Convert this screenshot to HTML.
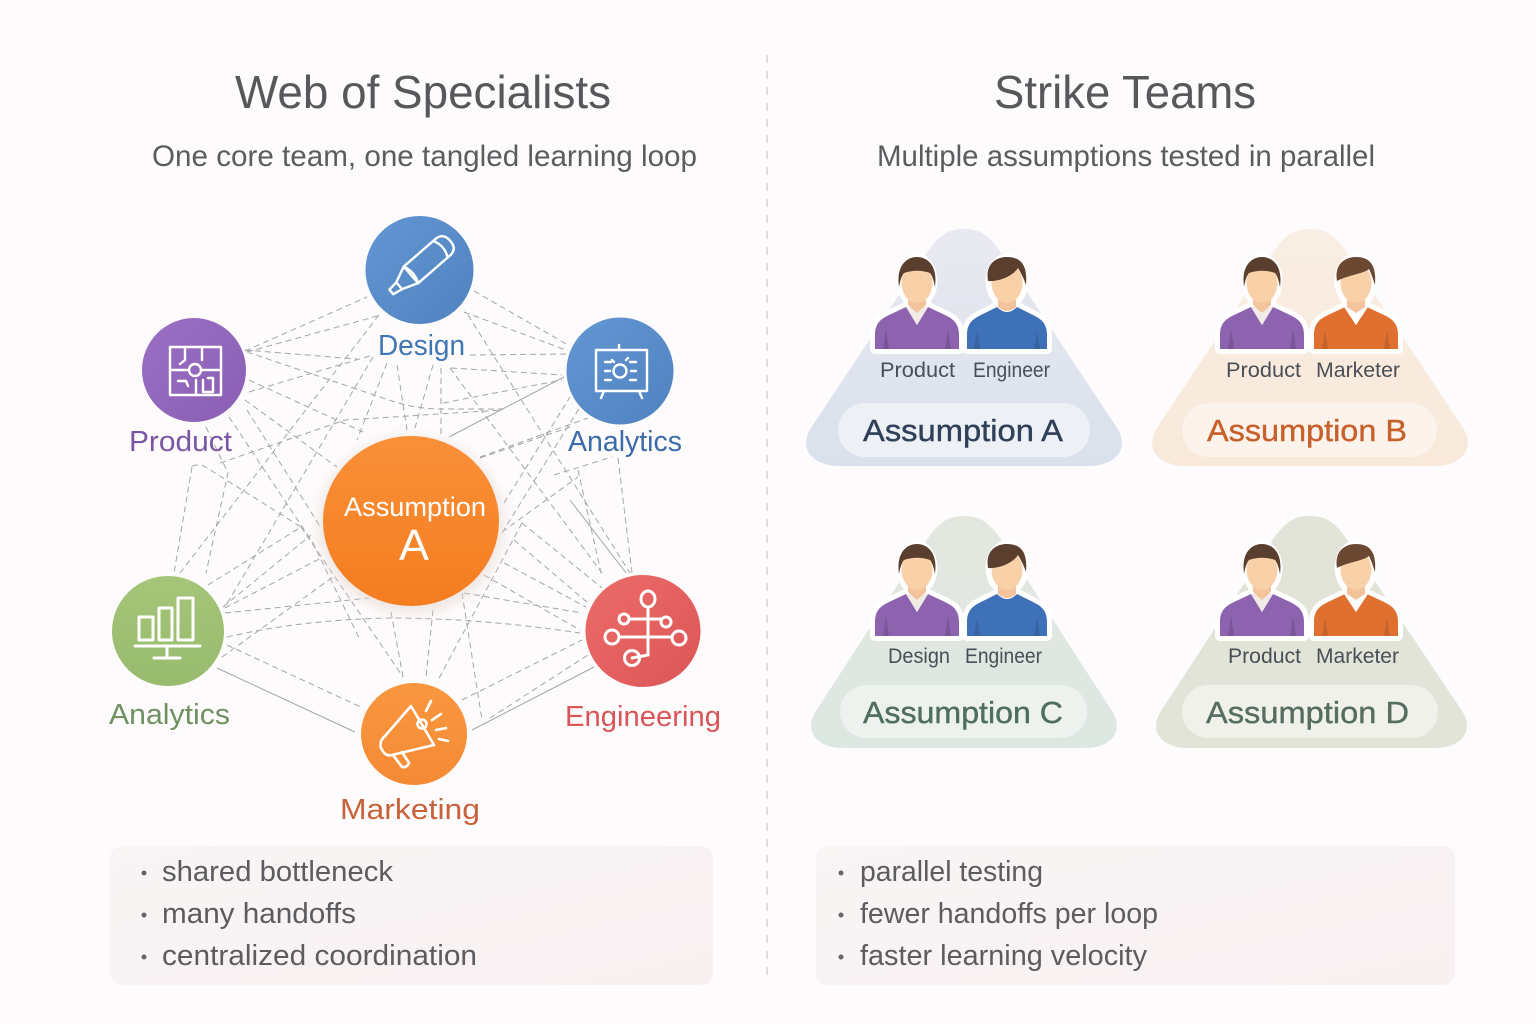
<!DOCTYPE html>
<html lang="en"><head><meta charset="utf-8"><title>Web of Specialists vs Strike Teams</title>
<style>
html,body{margin:0;padding:0;background:#fdfbfb}
svg{display:block}
text{font-family:"Liberation Sans",sans-serif}
</style></head><body>
<svg xmlns="http://www.w3.org/2000/svg" width="1536" height="1024" viewBox="0 0 1536 1024">
<defs>
<linearGradient id="gB" x1="0" y1="0" x2="1" y2="1"><stop offset="0" stop-color="#6397d3"/><stop offset="1" stop-color="#4f82bf"/></linearGradient>
<linearGradient id="gP" x1="0" y1="0" x2="1" y2="1"><stop offset="0" stop-color="#9a70c4"/><stop offset="1" stop-color="#8a5fb3"/></linearGradient>
<linearGradient id="gO" x1="0" y1="0" x2="0" y2="1"><stop offset="0" stop-color="#f99038"/><stop offset="1" stop-color="#f47d20"/></linearGradient>
<linearGradient id="gM" x1="0" y1="0" x2="0" y2="1"><stop offset="0" stop-color="#f9973f"/><stop offset="1" stop-color="#f58a35"/></linearGradient>
<linearGradient id="gG" x1="0" y1="0" x2="0" y2="1"><stop offset="0" stop-color="#a5c578"/><stop offset="1" stop-color="#98bb6e"/></linearGradient>
<linearGradient id="gR" x1="0" y1="0" x2="1" y2="1"><stop offset="0" stop-color="#ec6d6a"/><stop offset="1" stop-color="#dc5557"/></linearGradient>
<linearGradient id="tA" x1="0" y1="0" x2="0" y2="1"><stop offset="0" stop-color="#e9e9f0"/><stop offset="1" stop-color="#d9e1ec"/></linearGradient>
<linearGradient id="tB" x1="0" y1="0" x2="0" y2="1"><stop offset="0" stop-color="#f9eee4"/><stop offset="1" stop-color="#f8e9da"/></linearGradient>
<linearGradient id="tC" x1="0" y1="0" x2="0" y2="1"><stop offset="0" stop-color="#e3e7e0"/><stop offset="1" stop-color="#dde7e2"/></linearGradient>
<linearGradient id="tD" x1="0" y1="0" x2="0" y2="1"><stop offset="0" stop-color="#e2e4d9"/><stop offset="1" stop-color="#e1e4d7"/></linearGradient>
<linearGradient id="pan" x1="0" y1="0" x2="1" y2="1"><stop offset="0" stop-color="#f8f5f5"/><stop offset="1" stop-color="#f9f0f2"/></linearGradient>
<filter id="soft" x="-20%" y="-20%" width="140%" height="140%"><feGaussianBlur stdDeviation="6"/></filter>

<g id="p1">
  <path d="M-42,0 V-14 C-42,-26 -36,-30 -28,-34 L-11,-42 H11 L28,-34 C36,-30 42,-26 42,-14 V0 Z" fill="#fff" stroke="#fff" stroke-width="10" stroke-linejoin="round"/>
  <ellipse cx="0" cy="-68" rx="20.500" ry="27.500" fill="#fff"/>
  <path d="M-42,0 V-14 C-42,-26 -36,-30 -28,-34 L-11,-42 L0,-24 L11,-42 L28,-34 C36,-30 42,-26 42,-14 V0 Z" fill="currentColor"/>
  <path d="M-11,-42 L0,-24 L11,-42 Z" fill="#f0ebe5"/>
  <path d="M-34,0 L-31,-20 L-28,0 Z M34,0 L31,-20 L28,0 Z" fill="#000" opacity=".14"/>
  <path d="M-9,-58 H9 V-44 L0,-36 L-9,-44 Z" fill="#f3c49b"/>
  <ellipse cx="0" cy="-66" rx="15.500" ry="20" fill="#f9d1a9"/>
  <path d="M-18,-62 C-21,-84 -10,-92 0,-92 C10,-92 21,-84 18,-62 C17,-68 15,-74 13,-76 C5,-79 -5,-79 -13,-76 C-15,-74 -17,-68 -18,-62 Z" fill="#5a3f2e"/>
</g>
<g id="p2">
  <path d="M-40,0 V-14 C-40,-26 -34,-30 -26,-34 L-10,-42 H10 L26,-34 C34,-30 40,-26 40,-14 V0 Z" fill="#fff" stroke="#fff" stroke-width="10" stroke-linejoin="round"/>
  <ellipse cx="0" cy="-68" rx="21.500" ry="27.500" fill="#fff"/>
  <path d="M-40,0 V-14 C-40,-26 -34,-30 -26,-34 L-10,-42 Q0,-32 10,-42 L26,-34 C34,-30 40,-26 40,-14 V0 Z" fill="currentColor"/>
  <path d="M-33,0 L-30,-18 L-27,0 Z M33,0 L30,-18 L27,0 Z" fill="#000" opacity=".12"/>
  <path d="M-9,-58 H9 V-42 Q0,-34 -9,-42 Z" fill="#f3c49b"/>
  <ellipse cx="0" cy="-66" rx="15.500" ry="20" fill="#f9d1a9"/>
  <path d="M-19,-68 C-22,-86 -10,-92 0,-92 C12,-92 21,-86 19,-64 C17,-70 14,-76 11,-81 C6,-73 -8,-67 -19,-68 Z" fill="#5a3f2e"/>
</g>
<g id="p3">
  <path d="M-42,0 V-14 C-42,-26 -36,-30 -28,-34 L-11,-42 H11 L28,-34 C36,-30 42,-26 42,-14 V0 Z" fill="#fff" stroke="#fff" stroke-width="10" stroke-linejoin="round"/>
  <ellipse cx="0" cy="-68" rx="21.500" ry="27.500" fill="#fff"/>
  <path d="M-42,0 V-14 C-42,-26 -36,-30 -28,-34 L-11,-42 L0,-24 L11,-42 L28,-34 C36,-30 42,-26 42,-14 V0 Z" fill="currentColor"/>
  <path d="M-12,-42 L0,-24 L12,-42 Z" fill="#fff"/>
  <path d="M-34,0 L-31,-18 L-28,0 Z M34,0 L31,-18 L28,0 Z" fill="#000" opacity=".12"/>
  <path d="M-9,-58 H9 V-42 L0,-36 L-9,-42 Z" fill="#f3c49b"/>
  <ellipse cx="0" cy="-66" rx="15.500" ry="20" fill="#f9d1a9"/>
  <path d="M-19,-68 C-22,-86 -10,-92 0,-92 C12,-92 21,-86 19,-64 C17,-70 15,-76 13,-80 C7,-75 -8,-74 -19,-68 Z" fill="#6a4832"/>
</g>
</defs>

<rect width="1536" height="1024" fill="#fdfbfb"/>

<line x1="767" y1="55" x2="767" y2="978" stroke="#c9c8cb" stroke-width="1.2" stroke-dasharray="8 8"/>

<!-- headings -->
<text x="235" y="108" font-size="46" fill="#58585c" textLength="376" lengthAdjust="spacingAndGlyphs">Web of Specialists</text>
<text x="152" y="166" font-size="30" fill="#5c5c60" textLength="545" lengthAdjust="spacingAndGlyphs">One core team, one tangled learning loop</text>
<text x="994" y="108" font-size="46" fill="#58585c" textLength="262" lengthAdjust="spacingAndGlyphs">Strike Teams</text>
<text x="877" y="166" font-size="30" fill="#5c5c60" textLength="498" lengthAdjust="spacingAndGlyphs">Multiple assumptions tested in parallel</text>

<!-- connectors -->
<g fill="none" stroke="#a4a4aa" stroke-width="1" stroke-dasharray="6 4">
<path d="M245,351L367,297M247,352L381,315M245,350L357,359M249,392L373,355M247,352L389,400Q415,409 441,409L504,409M443,403L562,380M220,463L345,420L502,410M470,355L566,354M451,368L562,375M474,291L568,345M464,312L566,350M468,315L630,573M450,368L602,573M480,457L588,418M480,458L570,427M504,503L570,397M502,532L578,477M502,533L580,407M554,475L612,457M618,458L632,573M578,470L602,577"/>
<path d="M192,467L174,573M192,466Q198,464 204,466L301,527M206,427L228,473L206,573M229,417L313,543L360,640M245,400L337,467M249,380L363,432M379,315L180,573M373,357L225,607M387,363L357,440M397,365L407,430M433,365L415,428M441,368L441,437M247,410L321,528M208,585L301,527M223,607L311,535M225,608L321,558M225,613L369,598"/>
<path d="M227,637Q300,620 389,618Q480,618 580,633M222,657L333,577M227,645L363,708M301,527L403,677M391,612L403,677M433,610L426,677M522,523L437,682M462,593L482,720M464,593L582,613M484,575L580,630M504,563L586,607M514,540L588,603M522,523L602,588M462,700L582,640M490,718L588,655"/>
</g>
<g fill="none" stroke="#a4a4aa" stroke-width="1">
<path d="M217,668L355,732M472,730L594,667M570,500L626,573M449,437L564,377"/>
</g>

<!-- center -->
<ellipse cx="411" cy="525" rx="92" ry="88" fill="#e8dcd6" opacity=".7" filter="url(#soft)"/>
<ellipse cx="411" cy="521" rx="88" ry="85" fill="url(#gO)"/>
<text x="344" y="516" font-size="27" fill="#fff" textLength="142" lengthAdjust="spacingAndGlyphs">Assumption</text>
<text x="399" y="560" font-size="44" fill="#fff" textLength="30" lengthAdjust="spacingAndGlyphs">A</text>

<!-- nodes -->
<circle cx="419.500" cy="270" r="54" fill="url(#gB)"/>
<circle cx="194" cy="370" r="52" fill="url(#gP)"/>
<circle cx="620" cy="371" r="53.500" fill="url(#gB)"/>
<ellipse cx="168" cy="631" rx="56" ry="55" fill="url(#gG)"/>
<ellipse cx="643" cy="631" rx="57.500" ry="56" fill="url(#gR)"/>
<ellipse cx="414" cy="734" rx="53" ry="51" fill="url(#gM)"/>

<!-- icons -->
<g fill="none" stroke="#fff" stroke-width="2.400" stroke-linejoin="round" stroke-linecap="round">
  <g transform="translate(420,267) rotate(-41)">
    <path d="M-12,-11 H30 Q40,-11 40,0 Q40,11 30,11 H-12 Z"/>
    <path d="M27,-11 Q33,0 27,11"/>
    <path d="M-12,-11 L-28,-4 L-38,-3 V3 L-28,5 L-12,11 Q-7,0 -12,-11 Z"/>
    <path d="M-28,-4 V5"/>
  </g>
  <path d="M170,347H221V395H170Z"/>
  <circle cx="195" cy="370" r="6"/>
  <path d="M170,370H187M203,370H221M185,347V360L180,364M202,347V360M178,381H186L188,386M196,380V395M203,380V392H213V378H208"/>
  <path d="M596,350H647V391H596Z"/>
  <path d="M619,345V350M604,391L601,398M639,391L642,398"/>
  <circle cx="620" cy="371" r="6.500"/>
  <path d="M605,362H611M605,371H610M605,380H611M630,362H636M631,371H636M630,380H636M612,360L614,362M628,358L626,360"/>
  <path d="M139,617H153V640H139ZM159,608H172V640H159ZM178,598H193V640H178Z" stroke-width="3"/>
  <path d="M135,646H200M167,646V658M154,658H180" stroke-width="3"/>
  <path d="M648,607V655L632,658M629,619H661M619,637H672" stroke-width="3"/>
  <ellipse cx="648" cy="599" rx="7" ry="8" stroke-width="3"/>
  <circle cx="624" cy="619" r="5" stroke-width="3"/>
  <circle cx="666" cy="622" r="5" stroke-width="3"/>
  <circle cx="612" cy="637" r="7" stroke-width="3"/>
  <circle cx="679" cy="638" r="7" stroke-width="3"/>
  <circle cx="632" cy="658" r="7.500" stroke-width="3"/>
  <path d="M411,706L434,745L392,755Q385,757 381,748Q379,741 385,736Z" stroke-width="2.600"/>
  <path d="M393,755L402,767Q407,768 409,763L402,752" stroke-width="2.600"/>
  <circle cx="422" cy="724" r="4.500" stroke-width="2.600"/>
  <path d="M431,701L426,711M441,714L432,720M446,728L436,730M448,741L439,739" stroke-width="2.600"/>
</g>

<!-- node labels -->
<text x="378" y="355" font-size="29" fill="#3f76b4" textLength="87" lengthAdjust="spacingAndGlyphs">Design</text>
<text x="129" y="451" font-size="29" fill="#7a55a5" textLength="103" lengthAdjust="spacingAndGlyphs">Product</text>
<text x="568" y="451" font-size="29" fill="#3b6ba8" textLength="114" lengthAdjust="spacingAndGlyphs">Analytics</text>
<text x="109" y="724" font-size="29" fill="#6f9160" textLength="121" lengthAdjust="spacingAndGlyphs">Analytics</text>
<text x="565" y="726" font-size="29" fill="#d9555a" textLength="156" lengthAdjust="spacingAndGlyphs">Engineering</text>
<text x="340" y="819" font-size="29" fill="#c8623a" textLength="140" lengthAdjust="spacingAndGlyphs">Marketing</text>

<!-- team triangles -->
<path d="M840,466C812,466 798,448 811,428L926,254C940,233 950,229 964,229C978,229 988,233 1002,254L1117,428C1130,448 1116,466 1088,466Z" fill="url(#tA)"/>
<path d="M1186,466C1158,466 1144,448 1157,428L1272,254C1286,233 1296,229 1310,229C1324,229 1334,233 1348,254L1463,428C1476,448 1462,466 1434,466Z" fill="url(#tB)"/>
<path d="M843,748C817,748 803,731 816,711L926,541C940,520 950,516 964,516C978,516 988,520 1002,541L1112,711C1125,731 1111,748 1085,748Z" fill="url(#tC)"/>
<path d="M1188,748C1162,748 1148,731 1161,711L1272,541C1286,520 1296,516 1310,516C1324,516 1334,520 1348,541L1462,711C1475,731 1461,748 1435,748Z" fill="url(#tD)"/>

<!-- people -->
<use href="#p1" transform="translate(917,349)" color="#8d63b0"/>
<use href="#p2" transform="translate(1007,349)" color="#3f71b8"/>
<use href="#p1" transform="translate(1262,349)" color="#8d63b0"/>
<use href="#p3" transform="translate(1356,349)" color="#e0702f"/>
<use href="#p1" transform="translate(917,636)" color="#8d63b0"/>
<use href="#p2" transform="translate(1007,636)" color="#3f71b8"/>
<use href="#p1" transform="translate(1262,636)" color="#8d63b0"/>
<use href="#p3" transform="translate(1356,636)" color="#e0702f"/>

<!-- person labels -->
<g font-size="21" fill="#4a4f57">
<text x="880" y="377" textLength="75" lengthAdjust="spacingAndGlyphs">Product</text>
<text x="973" y="377" textLength="77" lengthAdjust="spacingAndGlyphs">Engineer</text>
<text x="1226" y="377" textLength="75" lengthAdjust="spacingAndGlyphs">Product</text>
<text x="1316" y="377" textLength="84" lengthAdjust="spacingAndGlyphs">Marketer</text>
<text x="888" y="663" textLength="62" lengthAdjust="spacingAndGlyphs">Design</text>
<text x="965" y="663" textLength="77" lengthAdjust="spacingAndGlyphs">Engineer</text>
<text x="1228" y="663" textLength="73" lengthAdjust="spacingAndGlyphs">Product</text>
<text x="1316" y="663" textLength="83" lengthAdjust="spacingAndGlyphs">Marketer</text>
</g>

<!-- pills -->
<rect x="838" y="403" width="252" height="54" rx="27" fill="#edf0f5"/>
<rect x="1182" y="403" width="255" height="54" rx="27" fill="#fbf3ec"/>
<rect x="840" y="685" width="247" height="53" rx="26.500" fill="#edf2ef"/>
<rect x="1182" y="685" width="256" height="53" rx="26.500" fill="#eff1ea"/>
<g font-size="31">
<text x="863" y="441" fill="#2f4058" textLength="200" lengthAdjust="spacingAndGlyphs" stroke="#2f4058" stroke-width=".4">Assumption A</text>
<text x="1207" y="441" fill="#c8602c" textLength="200" lengthAdjust="spacingAndGlyphs" stroke="#c8602c" stroke-width=".4">Assumption B</text>
<text x="863" y="723" fill="#4f6e5f" textLength="200" lengthAdjust="spacingAndGlyphs" stroke="#4f6e5f" stroke-width=".4">Assumption C</text>
<text x="1206" y="723" fill="#566e60" textLength="203" lengthAdjust="spacingAndGlyphs" stroke="#566e60" stroke-width=".4">Assumption D</text>
</g>

<!-- bottom panels -->
<rect x="110" y="846" width="603" height="139" rx="12" fill="url(#pan)"/>
<rect x="816" y="846" width="639" height="139" rx="12" fill="url(#pan)"/>
<g fill="#666669">
<circle cx="144" cy="873" r="2.500"/><circle cx="144" cy="915" r="2.500"/><circle cx="144" cy="957" r="2.500"/>
<circle cx="841" cy="873" r="2.500"/><circle cx="841" cy="915" r="2.500"/><circle cx="841" cy="957" r="2.500"/>
</g>
<g font-size="29" fill="#5c5c60">
<text x="162" y="881" textLength="231" lengthAdjust="spacingAndGlyphs">shared bottleneck</text>
<text x="162" y="923" textLength="194" lengthAdjust="spacingAndGlyphs">many handoffs</text>
<text x="162" y="965" textLength="315" lengthAdjust="spacingAndGlyphs">centralized coordination</text>
<text x="860" y="881" textLength="183" lengthAdjust="spacingAndGlyphs">parallel testing</text>
<text x="860" y="923" textLength="298" lengthAdjust="spacingAndGlyphs">fewer handoffs per loop</text>
<text x="860" y="965" textLength="287" lengthAdjust="spacingAndGlyphs">faster learning velocity</text>
</g>
</svg>
</body></html>
